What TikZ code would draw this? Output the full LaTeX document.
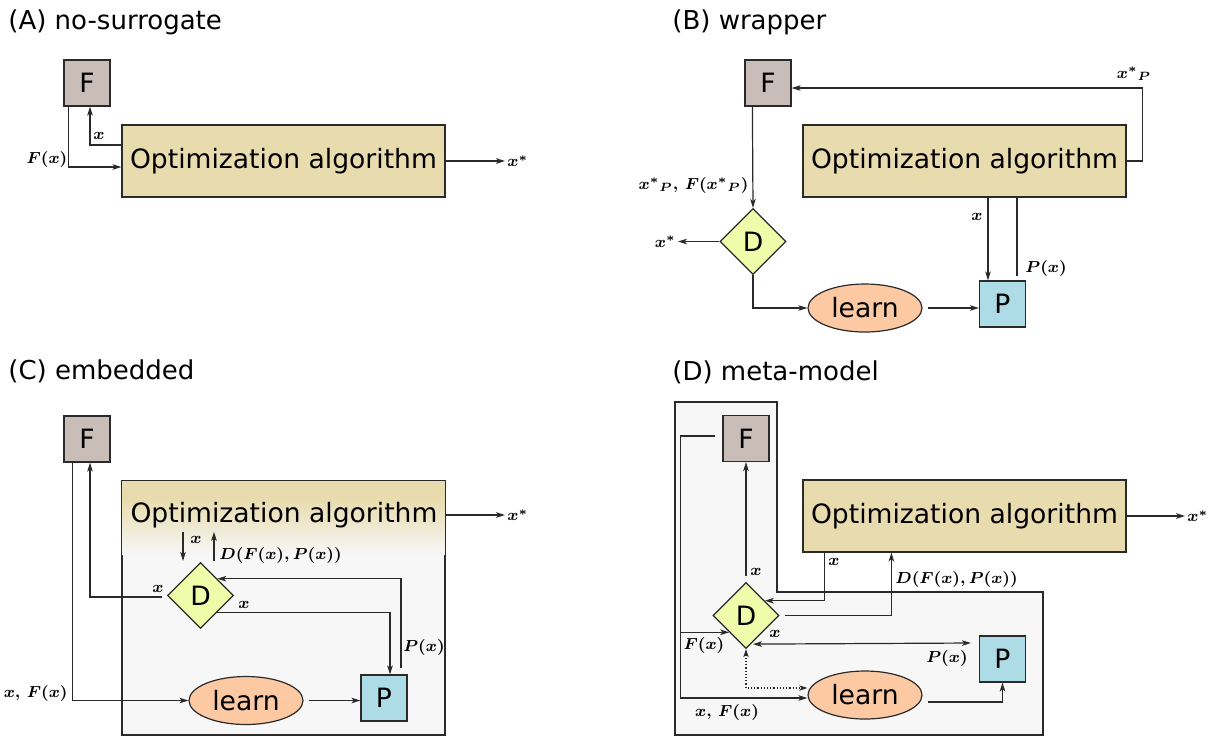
\documentclass[tikz,border=0pt]{standalone}
\usepackage{fontspec}
\setmainfont{DejaVu Sans}
\usetikzlibrary{shapes.geometric,arrows.meta,calc}
\definecolor{ffill}{HTML}{C8BDB7}
\definecolor{ofill}{HTML}{E8DCAF}
\definecolor{dfill}{HTML}{EFFCAA}
\definecolor{lfill}{HTML}{FCC9A2}
\definecolor{pfill}{HTML}{AEDCE6}
\definecolor{cfill}{HTML}{F7F7F7}
\definecolor{edge}{HTML}{2A2A2A}
\begin{document}
\begin{tikzpicture}[x=0.5pt,y=-0.5pt,
  every node/.style={inner sep=0pt},
  big/.style={font=\fontsize{13.3}{16}\selectfont},
  ttl/.style={font=\fontsize{13}{16}\selectfont,anchor=west},
  lbl/.style={font=\fontsize{7.9}{9}\selectfont\boldmath,inner sep=1pt},
  fbox/.style={big,draw=edge,fill=ffill,minimum width=23pt,minimum height=23pt,line width=0.6pt},
  pbox/.style={big,draw=edge,fill=pfill,minimum width=23pt,minimum height=23pt,line width=0.6pt},
  obox/.style={big,draw=edge,fill=ofill,minimum width=161.5pt,minimum height=36pt,line width=0.6pt},
  dnode/.style={big,diamond,aspect=1,draw=edge,fill=dfill,minimum width=33pt,minimum height=33pt,line width=0.6pt},
  lnode/.style={big,ellipse,draw=edge,fill=lfill,minimum width=57pt,minimum height=24pt,line width=0.6pt},
  cont/.style={draw=edge,fill=cfill,line width=0.6pt},
  arr/.style={draw=edge,line width=0.6pt,-{Stealth[length=4.5pt,width=2.8pt,inset=1.2pt]}},
  arrr/.style={draw=edge,line width=0.6pt,{Stealth[length=4.5pt,width=2.8pt,inset=1.2pt]}-{Stealth[length=4.5pt,width=2.8pt,inset=1.2pt]}},
  dotarr/.style={draw=edge,line width=0.6pt,densely dotted,{Stealth[length=4pt,width=2.6pt,inset=1pt]}-{Stealth[length=4pt,width=2.6pt,inset=1pt]}},
  ln/.style={draw=edge,line width=0.6pt}
]
\useasboundingbox (0,0) rectangle (1212,736);

% ================= (A) =================
\node[ttl] (tA) at (8,22) {(A) no-surrogate};
\node[fbox] (FA) at (87,83) {F};
\node[obox] (optA) at (283.5,161) {Optimization algorithm};
\node[lbl,anchor=west] (xsA) at (505,161) {$x^*$};
\draw[arr] ($(FA.south west)+(5,0)$) |- ($(optA.west)+(0,6)$);
\draw[arr] ($(optA.west)+(0,-16)$) -| ($(FA.south)+(3,0)$);
\draw[arr] (optA.east) -- (xsA.west);
\node[lbl] (lA1) at (99,136) {$x$};
\node[lbl] (lA2) at (47,159) {$F(x)$};

% ================= (B) =================
\node[ttl] (tB) at (672,22) {(B) wrapper};
\node[fbox] (FB) at (768,83) {F};
\node[obox] (optB) at (964.5,161) {Optimization algorithm};
\node[dnode] (DB) at (753,241.5) {D};
\node[lnode] (learnB) at (865,308) {learn};
\node[pbox] (PB) at (1002.5,304) {P};
\node[lbl,anchor=east] (xsB) at (678,241.5) {$x^*$};
\draw[arr] (optB.east) -- ++(16,0) |- ($(FB.east)+(0,5)$);
\node[lbl] (lB1) at (1134,74) {$x^*{}_P$};
\draw[arr] ($(FB.south west)+(8,0)$) -- (DB.north);
\node[lbl,anchor=east] (lB2) at (751,185) {$x^*{}_P,\,F(x^*{}_P)$};
\draw[arr] (DB.west) -- (xsB.east);
\draw[arr] (DB.south) |- (learnB.west);
\draw[arr] ($(learnB.east)+(5,0)$) -- (PB.west |- learnB.east);
\coordinate (PxB) at ($(PB.north)+(-14.5,0)$);
\draw[arr] (optB.south -| PxB) -- (PxB);
\coordinate (PyB) at ($(PB.north)+(14.5,-4)$);
\draw[ln] (PyB) -- (PyB |- optB.south);
\node[lbl] (lB3) at (977,217) {$x$};
\node[lbl,anchor=west] (lB4) at (1023,268) {$P(x)$};

% ================= (C) =================
\node[ttl] (tC) at (8,371) {(C) embedded};
\node[cont,minimum width=161.5pt,minimum height=127pt] (contC) at (283.5,608) {};
\fill[ofill] ($(contC.north west)+(0.6,0.6)$) rectangle ($(contC.north east)+(-0.6,20)$);
\shade[top color=ofill,bottom color=cfill] ($(contC.north west)+(0.6,20)$) rectangle ($(contC.north east)+(-0.6,74)$);
\draw[ln] (contC.north west) rectangle (contC.south east);
\node[big] (optC) at (284,515) {Optimization algorithm};
\node[fbox] (FC) at (87,439) {F};
\node[dnode] (DC) at (200.5,595.5) {D};
\node[lnode] (learnC) at (246,700.5) {learn};
\node[pbox] (PC) at (384,698) {P};
\node[lbl,anchor=west] (xsC) at (505,515) {$x^*$};
\draw[arr] (contC.east |- optC) -- (xsC.west);
\coordinate (dnA) at ($(DC.north)+(-17.5,-30)$);
\coordinate (dnB) at ($(DC.north)+(-17.5,-1)$);
\draw[arr] (dnA) -- (dnB);
\coordinate (upA) at ($(DC.north)+(13.5,-1)$);
\coordinate (upB) at ($(DC.north)+(13.5,-30)$);
\draw[arr] (upA) -- (upB);
\node[lbl,anchor=west] (lC1) at (188,540) {$x$};
\node[lbl,anchor=west] (lC2) at (217,555) {$D(F(x),P(x))$};
\draw[arr] ($(PC.north)+(17,-6)$) |- (DC.north east);
\draw[arr] (DC.south east) -| ($(PC.north)+(6,0)$);
\draw[arr] ($(DC.west)+(-5,1.5)$) -| ($(FC.south)+(3,0)$);
\draw[arr] ($(FC.south west)+(9,0)$) |- (learnC.west);
\draw[arr] ($(learnC.east)+(5,0)$) -- (PC.west |- learnC.east);
\node[lbl] (lC3) at (158,589) {$x$};
\node[lbl] (lC4) at (244,605) {$x$};
\node[lbl] (lC5) at (424,647) {$P(x)$};
\node[lbl,anchor=east] (lC6) at (70,693) {$x,\,F(x)$};

% ================= (D) =================
\node[ttl] (tD) at (672,372) {(D) meta-model};
\draw[cont] (675,402) -- (777,402) -- (777,592) -- (1043,592) -- (1043,735) -- (675,735) -- cycle;
\node[fbox] (FD) at (746,438.5) {F};
\node[obox] (optD) at (964.5,516) {Optimization algorithm};
\node[dnode] (DD) at (746,615.5) {D};
\node[pbox] (PD) at (1002.5,659) {P};
\node[lnode] (learnD) at (865,695) {learn};
\node[lbl,anchor=west] (xsD) at (1185,516) {$x^*$};
\draw[arr] (optD.east) -- (xsD.west);
\coordinate (vD) at ($(learnD.west)+(-127,3)$);
\draw[arr] ($(FD.west)+(-7,-2.5)$) -| (vD) -- ($(learnD.west)+(0,3)$);
\draw[arr] (vD |- DD.south west) -- (DD.south west);
\draw[arr] ($(DD.north)+(0,-6)$) -- (FD.south);
\draw[arr] ($(optD.south west)+(22,0)$) |- ($(DD.north east)+(2,2)$);
\draw[arr] ($(DD.east)+(5,0)$) -| ($(optD.south west)+(89,0)$);
\draw[arrr] ($(DD.south)+(7,-5)$) -- ($(PD.west)+(-8,-16)$);
\draw[dotarr] (DD.south) |- ($(learnD.west)+(0,-7)$);
\draw[arr] ($(learnD.east)+(5,7)$) -| (PD.south);
\node[lbl] (lD1) at (756,572) {$x$};
\node[lbl] (lD2) at (834,562) {$x$};
\node[lbl,anchor=west] (lD3) at (893,579) {$D(F(x),P(x))$};
\node[lbl] (lD4) at (704,645) {$F(x)$};
\node[lbl] (lD5) at (775,634) {$x$};
\node[lbl] (lD6) at (947,658) {$P(x)$};
\node[lbl] (lD7) at (727,712) {$x,\,F(x)$};
\end{tikzpicture}
\end{document}
